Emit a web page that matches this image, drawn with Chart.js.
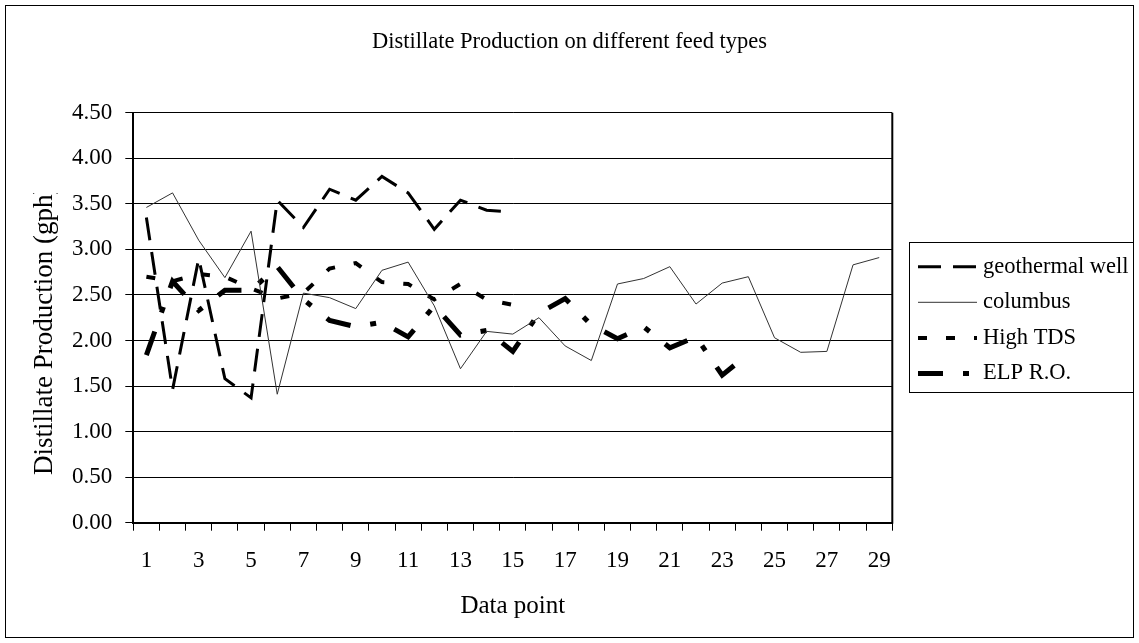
<!DOCTYPE html>
<html>
<head>
<meta charset="utf-8">
<title>Distillate Production on different feed types</title>
<script src="https://cdn.jsdelivr.net/npm/chart.js@4.4.1/dist/chart.umd.min.js"></script>
<style>
  html, body { margin: 0; padding: 0; background: #fff; }
  canvas { display: block; }
</style>
</head>
<body>
<canvas id="chart" width="1139" height="643"></canvas>
<script>
// Data point numbers along the category axis
const categories = ['1', '2', '3', '4', '5', '6', '7', '8', '9', '10',
                    '11', '12', '13', '14', '15', '16', '17', '18', '19', '20',
                    '21', '22', '23', '24', '25', '26', '27', '28', '29'];

// Distillate production (gph) per feed type
const geothermalWell = [3.35, 1.46, 2.90, 1.58, 1.37, 3.54, 3.24, 3.66, 3.54, 3.80,
                        3.62, 3.22, 3.54, 3.43, 3.41];
const columbus = [3.46, 3.62, 3.10, 2.69, 3.20, 1.41, 2.52, 2.47, 2.35, 2.77,
                  2.86, 2.38, 1.69, 2.10, 2.07, 2.25, 1.94, 1.78, 2.62, 2.68,
                  2.81, 2.40, 2.63, 2.70, 2.03, 1.87, 1.88, 2.83, 2.91];
const highTDS = [2.70, 2.65, 2.73, 2.70, 2.57, 2.46, 2.52, 2.79, 2.85, 2.64,
                 2.62, 2.45, 2.62, 2.45, 2.39];
const elpRO = [1.84, 2.65, 2.33, 2.55, 2.55, 2.81, 2.45, 2.22, 2.15, 2.20,
               2.04, 2.38, 2.06, 2.11, 1.88, 2.30, 2.46, 2.17, 2.02, 2.15,
               1.92, 2.04, 1.62, 1.85];

const seriesLabels = ['geothermal well', 'columbus', 'High TDS', 'ELP R.O.'];
const chartTitle = 'Distillate Production on different feed types';
const xTitle = 'Data point';
const yTitle = 'Distillate Production (gph)';

const serif = '"Liberation Serif", "Times New Roman", serif';

// White page, outer frame and the right edge of the plot area
const frame = {
  id: 'frame',
  beforeDraw(chart) {
    const ctx = chart.ctx;
    ctx.save();
    ctx.fillStyle = '#fff';
    ctx.fillRect(0, 0, chart.width, chart.height);
    ctx.restore();
  },
  afterDraw(chart) {
    const { ctx, chartArea: a } = chart;
    ctx.save();
    ctx.strokeStyle = '#000';
    ctx.lineWidth = 1;
    ctx.strokeRect(5.5, 5.5, 1128, 632);
    ctx.lineWidth = 2;
    ctx.beginPath();
    ctx.moveTo(a.right, a.top);
    ctx.lineTo(a.right, a.bottom + 1);
    ctx.stroke();
    ctx.restore();
  }
};

// Rotated value-axis title, cut off at the top like a fixed-size text box
const valueAxisTitle = {
  id: 'valueAxisTitle',
  afterDraw(chart) {
    const ctx = chart.ctx;
    ctx.save();
    ctx.beginPath();
    ctx.rect(0, 193, 120, 420);
    ctx.clip();
    ctx.translate(52, 475);
    ctx.rotate(-Math.PI / 2);
    ctx.font = '27px ' + serif;
    ctx.fillStyle = '#000';
    ctx.textAlign = 'left';
    ctx.textBaseline = 'alphabetic';
    ctx.fillText(yTitle, 0, 0);
    ctx.restore();
  }
};

// Boxed legend on the right, line samples taken from each dataset's style
const sideLegend = {
  id: 'sideLegend',
  afterDraw(chart) {
    const ctx = chart.ctx;
    ctx.save();
    ctx.strokeStyle = '#000';
    ctx.lineWidth = 1;
    ctx.strokeRect(909.5, 242.5, 224, 150);
    ctx.font = '22.5px ' + serif;
    ctx.fillStyle = '#000';
    ctx.textAlign = 'left';
    ctx.textBaseline = 'middle';
    chart.data.datasets.forEach((ds, i) => {
      const y = 266.7 + i * 35.6;
      ctx.save();
      ctx.strokeStyle = ds.borderColor;
      ctx.lineWidth = ds.borderWidth;
      ctx.lineCap = 'butt';
      ctx.setLineDash(ds.borderDash || []);
      ctx.beginPath();
      ctx.moveTo(918, y);
      ctx.lineTo(977, y);
      ctx.stroke();
      ctx.restore();
      ctx.fillText(ds.label, 983, y);
    });
    ctx.restore();
  }
};

new Chart(document.getElementById('chart'), {
  type: 'line',
  data: {
    labels: categories,
    datasets: [
      { label: seriesLabels[0], data: geothermalWell, yAxisID: 'y',
        borderColor: '#000', borderWidth: 3, borderDash: [23, 12] },
      { label: seriesLabels[1], data: columbus, yAxisID: 'y',
        borderColor: '#333', borderWidth: 1 },
      { label: seriesLabels[2], data: highTDS, yAxisID: 'y',
        borderColor: '#000', borderWidth: 4, borderDash: [9, 19] },
      { label: seriesLabels[3], data: elpRO, yAxisID: 'y',
        borderColor: '#000', borderWidth: 5, borderDash: [25, 20, 6, 20] }
    ]
  },
  options: {
    responsive: false,
    animation: false,
    devicePixelRatio: 1,
    events: [],
    layout: { padding: { left: 0, top: 5, right: 0, bottom: 5 } },
    elements: {
      point: { radius: 0, hoverRadius: 0 },
      line: { tension: 0, fill: false, borderCapStyle: 'butt', borderJoinStyle: 'miter' }
    },
    plugins: {
      legend: { display: false },
      tooltip: { enabled: false },
      title: {
        display: true,
        text: chartTitle,
        color: '#000',
        font: { family: serif, size: 22.5, weight: 'normal' },
        padding: { top: 24, bottom: 56.7 }
      }
    },
    scales: {
      x: {
        type: 'category',
        offset: true,
        grid: { offset: true, drawOnChartArea: false, drawTicks: true, tickLength: 8, color: '#000', lineWidth: 1 },
        border: { display: true, color: '#000', width: 2 },
        ticks: {
          autoSkip: false,
          maxRotation: 0,
          minRotation: 0,
          padding: 16.5,
          color: '#000',
          font: { family: serif, size: 23 },
          callback(value, index) { return index % 2 === 0 ? categories[index] : ''; }
        },
        title: {
          display: true,
          text: xTitle,
          color: '#000',
          font: { family: serif, size: 25, weight: 'normal' },
          padding: { top: 0, bottom: 17 }
        },
        afterFit(scale) { scale.height = 115.3; }
      },
      y: {
        type: 'linear',
        position: 'left',
        min: 0,
        max: 4.5,
        grid: { color: '#000', lineWidth: 1, drawTicks: true, tickLength: 8 },
        border: { display: true, color: '#000', width: 2 },
        ticks: {
          stepSize: 0.5,
          padding: 13,
          color: '#000',
          font: { family: serif, size: 23 },
          callback(value) { return Number(value).toFixed(2); }
        },
        afterFit(scale) { scale.width = 133.3; }
      },
      legendSpace: {
        type: 'linear',
        position: 'right',
        display: true,
        grid: { display: false, drawTicks: false },
        border: { display: false },
        ticks: { display: false },
        afterFit(scale) { scale.width = 246.7; }
      }
    }
  },
  plugins: [frame, valueAxisTitle, sideLegend]
});
</script>
</body>
</html>
